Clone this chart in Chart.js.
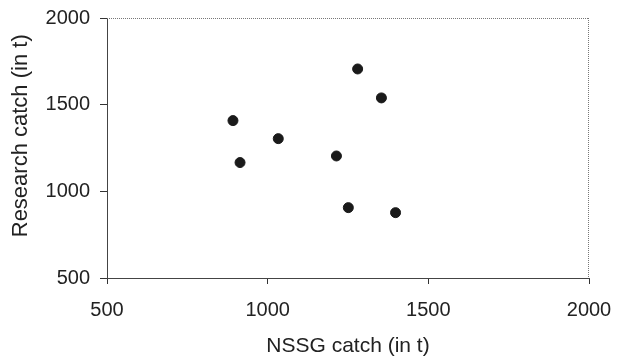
<!DOCTYPE html>
<html>
<head>
<meta charset="utf-8">
<script src="https://cdn.jsdelivr.net/npm/chart.js@4.4.0/dist/chart.umd.min.js"></script>
<style>
  html, body { margin: 0; padding: 0; background: #fff; }
  #wrap { width: 621px; height: 359px; position: relative; }
</style>
</head>
<body>
<div id="wrap"><canvas id="grafico"></canvas></div>
<script>
// NSSG catch vs research catch (t)
const nssgCatch = [892, 914, 1033, 1214, 1280, 1354, 1251, 1398];
const researchCatch = [1408, 1166, 1304, 1204, 1706, 1539, 906, 877];
const xTicks = [500, 1000, 1500, 2000];
const yTicks = [500, 1000, 1500, 2000];

const puntos = nssgCatch.map((x, i) => ({ x: x, y: researchCatch[i] }));

// dotted top / right frame
const marcoPunteado = {
    id: 'marcoPunteado',
    afterDraw(chart) {
        const { ctx, chartArea } = chart;
        ctx.save();
        ctx.strokeStyle = '#777';
        ctx.lineWidth = 1;
        ctx.setLineDash([1, 1]);
        ctx.beginPath();
        ctx.moveTo(chartArea.left, chartArea.top + 0.5);
        ctx.lineTo(chartArea.right, chartArea.top + 0.5);
        ctx.moveTo(chartArea.right - 0.5, chartArea.top);
        ctx.lineTo(chartArea.right - 0.5, chartArea.bottom);
        ctx.stroke();
        ctx.restore();
    }
};

const fuenteTicks = { family: 'Liberation Sans, Arial, sans-serif', size: 20 };
const fuenteTitulo = { family: 'Liberation Sans, Arial, sans-serif', size: 21 };

const ctx = document.getElementById('grafico').getContext('2d');
new Chart(ctx, {
    type: 'scatter',
    data: {
        datasets: [{
            data: puntos,
            backgroundColor: '#1a1a1a',
            borderColor: '#1a1a1a',
            pointRadius: 5,
            pointHoverRadius: 5,
        }]
    },
    options: {
        responsive: true,
        maintainAspectRatio: false,
        animation: false,
        layout: { padding: { top: 18, right: 32, left: 0, bottom: 0 } },
        plugins: { legend: { display: false }, tooltip: { enabled: false } },
        scales: {
            x: {
                type: 'linear',
                min: 500,
                max: 2000,
                afterBuildTicks: (axis) => { axis.ticks = xTicks.map(v => ({ value: v })); },
                afterFit: (axis) => {
                    axis.height = 81;
                    axis.paddingLeft = 0;
                    axis.paddingRight = 0;
                },
                grid: { drawOnChartArea: false, drawTicks: true, tickLength: 6, color: '#333' },
                border: { color: '#444', width: 1 },
                ticks: { color: '#222', font: fuenteTicks, padding: 14, maxRotation: 0, callback: (v) => String(v) },
                title: { display: true, text: 'NSSG catch (in t)', color: '#222', font: fuenteTitulo, padding: { top: 0, bottom: 0 } }
            },
            y: {
                type: 'linear',
                min: 500,
                max: 2000,
                afterBuildTicks: (axis) => { axis.ticks = yTicks.map(v => ({ value: v })); },
                afterFit: (axis) => {
                    axis.width = 107;
                    axis.paddingTop = 0;
                    axis.paddingBottom = 0;
                },
                grid: { drawOnChartArea: false, drawTicks: true, tickLength: 7, color: '#333' },
                border: { color: '#444', width: 1 },
                ticks: { color: '#222', font: fuenteTicks, padding: 10, callback: (v) => String(v) },
                title: { display: true, text: '    Research catch (in t)', color: '#222', font: { family: 'Liberation Sans, Arial, sans-serif', size: 22 }, padding: { top: 8, bottom: 0 } }
            }
        }
    },
    plugins: [marcoPunteado]
});
</script>
</body>
</html>
